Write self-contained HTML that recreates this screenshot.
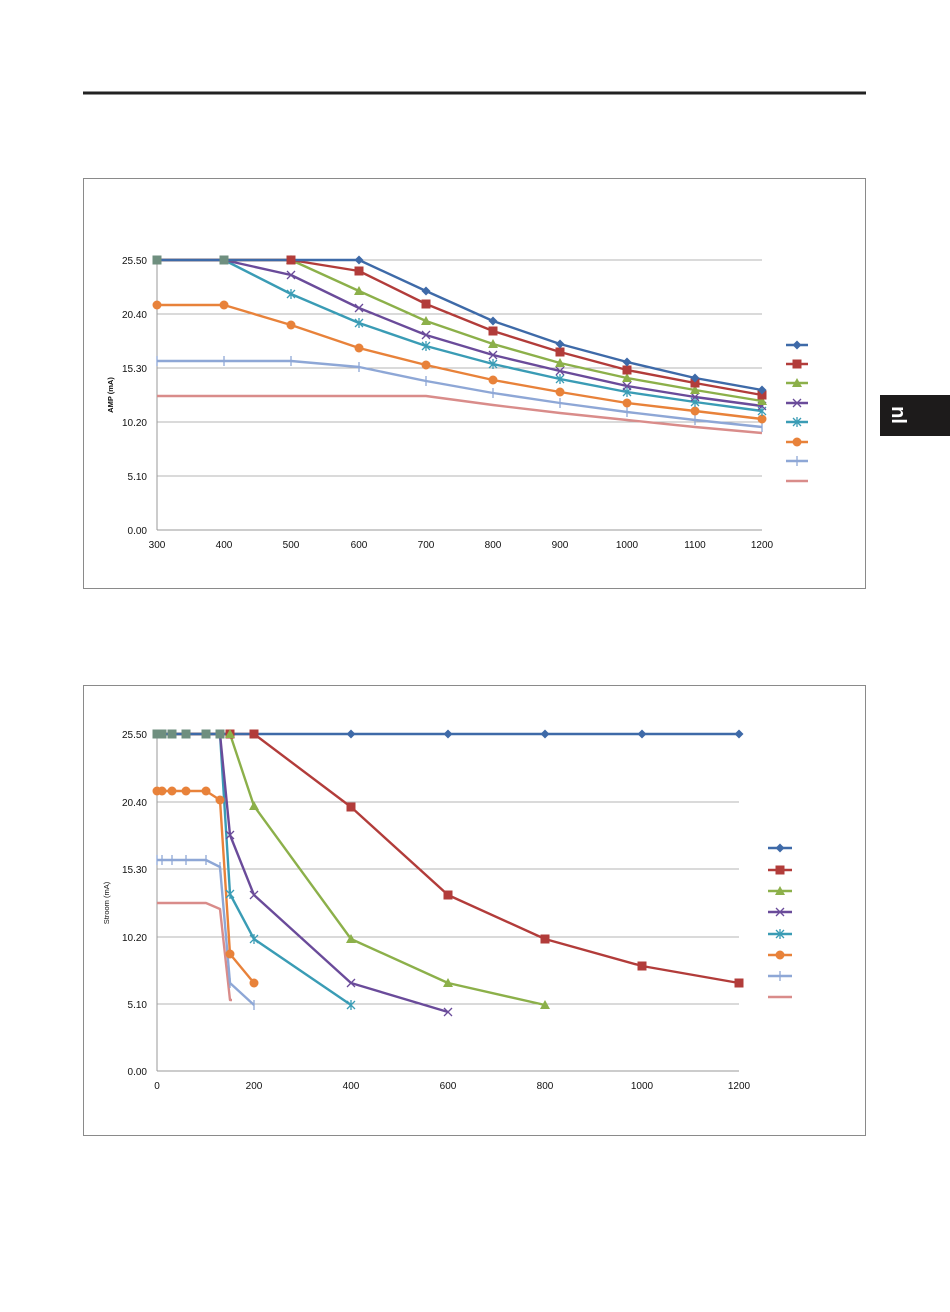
<!DOCTYPE html>
<html><head><meta charset="utf-8"><style>
html,body{margin:0;padding:0;background:#fff}
svg{display:block}
text{font-family:"Liberation Sans",sans-serif}
</style></head><body>
<svg width="950" height="1312" viewBox="0 0 950 1312" xmlns="http://www.w3.org/2000/svg">
<defs>
<path id="m1" d="M0,-4.5 L4.5,0 L0,4.5 L-4.5,0Z"/>
<rect id="m2" x="-4.5" y="-4.5" width="9" height="9"/>
<path id="m3" d="M0,-5 L5,4 L-5,4Z"/>
<path id="m4" d="M-4,-4 L4,4 M4,-4 L-4,4" fill="none" stroke-width="1.3"/>
<path id="m5" d="M-4,-4 L4,4 M4,-4 L-4,4 M0,-5 L0,5" fill="none" stroke-width="1.3"/>
<circle id="m6" r="4.5"/>
<path id="m7" d="M0,-5 L0,5" fill="none" stroke-width="1.3"/>
</defs>
<rect x="83" y="91.5" width="783" height="3" fill="#222"/>
<rect x="880" y="395" width="70" height="41" fill="#1d1b1b"/>
<text x="0" y="0" transform="translate(892,415) rotate(90)" fill="#fff" font-size="20" font-weight="bold" text-anchor="middle">nl</text>

<!-- Chart 1 -->
<rect x="83.5" y="178.5" width="782" height="410" fill="none" stroke="#8a8a8a"/>
<g stroke="#b5b5b5" stroke-width="1">
<line x1="157" y1="260" x2="762" y2="260"/><line x1="157" y1="314" x2="762" y2="314"/><line x1="157" y1="368" x2="762" y2="368"/><line x1="157" y1="422" x2="762" y2="422"/><line x1="157" y1="476" x2="762" y2="476"/>
</g>
<line x1="157" y1="530" x2="762" y2="530" stroke="#999"/>
<line x1="157" y1="260" x2="157" y2="530" stroke="#999"/>
<g font-size="10" fill="#111" text-anchor="end">
<text x="147" y="264">25.50</text><text x="147" y="318">20.40</text><text x="147" y="372">15.30</text><text x="147" y="426">10.20</text><text x="147" y="480">5.10</text><text x="147" y="534">0.00</text>
</g>
<g font-size="10" fill="#111" text-anchor="middle">
<text x="157" y="548">300</text><text x="224" y="548">400</text><text x="291" y="548">500</text><text x="359" y="548">600</text><text x="426" y="548">700</text><text x="493" y="548">800</text><text x="560" y="548">900</text><text x="627" y="548">1000</text><text x="695" y="548">1100</text><text x="762" y="548">1200</text>
</g>
<text transform="translate(113,395) rotate(-90)" font-size="7.5" font-weight="bold" text-anchor="middle" fill="#111">AMP (mA)</text>
<g fill="none" stroke-width="2.4" stroke-linejoin="round">
<polyline stroke="#d98c8a" points="157,396 426,396 493,405 560,413 627,420 695,427 762,433"/>
<polyline stroke="#8ea7d6" points="157,361 224,361 291,361 359,367 426,381 493,393 560,403 627,412 695,420 762,427"/>
<polyline stroke="#e8823a" points="157,305 224,305 291,325 359,348 426,365 493,380 560,392 627,403 695,411 762,419"/>
<polyline stroke="#3a9cb5" points="157,260 224,260 291,294 359,323 426,346 493,364 560,379 627,392 695,402 762,411"/>
<polyline stroke="#6a4b9a" points="157,260 224,260 291,275 359,308 426,335 493,355 560,371 627,386 695,397 762,406"/>
<polyline stroke="#8cb04a" points="157,260 224,260 291,260 359,291 426,321 493,344 560,363 627,378 695,390 762,401"/>
<polyline stroke="#b23c3a" points="157,260 224,260 291,260 359,271 426,304 493,331 560,352 627,370 695,383 762,395"/>
<polyline stroke="#3e6aa8" points="157,260 224,260 291,260 359,260 426,291 493,321 560,344 627,362 695,378 762,390"/>
</g>
<g stroke="#8ea7d6" fill="#8ea7d6"><use href="#m7" x="157" y="361"/><use href="#m7" x="224" y="361"/><use href="#m7" x="291" y="361"/><use href="#m7" x="359" y="367"/><use href="#m7" x="426" y="381"/><use href="#m7" x="493" y="393"/><use href="#m7" x="560" y="403"/><use href="#m7" x="627" y="412"/><use href="#m7" x="695" y="420"/><use href="#m7" x="762" y="427"/></g>
<g fill="#e8823a"><use href="#m6" x="157" y="305"/><use href="#m6" x="224" y="305"/><use href="#m6" x="291" y="325"/><use href="#m6" x="359" y="348"/><use href="#m6" x="426" y="365"/><use href="#m6" x="493" y="380"/><use href="#m6" x="560" y="392"/><use href="#m6" x="627" y="403"/><use href="#m6" x="695" y="411"/><use href="#m6" x="762" y="419"/></g>
<g stroke="#3a9cb5"><use href="#m5" x="291" y="294"/><use href="#m5" x="359" y="323"/><use href="#m5" x="426" y="346"/><use href="#m5" x="493" y="364"/><use href="#m5" x="560" y="379"/><use href="#m5" x="627" y="392"/><use href="#m5" x="695" y="402"/><use href="#m5" x="762" y="411"/></g>
<g stroke="#6a4b9a"><use href="#m4" x="291" y="275"/><use href="#m4" x="359" y="308"/><use href="#m4" x="426" y="335"/><use href="#m4" x="493" y="355"/><use href="#m4" x="560" y="371"/><use href="#m4" x="627" y="386"/><use href="#m4" x="695" y="397"/><use href="#m4" x="762" y="406"/></g>
<g fill="#8cb04a"><use href="#m3" x="291" y="260"/><use href="#m3" x="359" y="291"/><use href="#m3" x="426" y="321"/><use href="#m3" x="493" y="344"/><use href="#m3" x="560" y="363"/><use href="#m3" x="627" y="378"/><use href="#m3" x="695" y="390"/><use href="#m3" x="762" y="401"/></g>
<g fill="#b23c3a"><use href="#m2" x="291" y="260"/><use href="#m2" x="359" y="271"/><use href="#m2" x="426" y="304"/><use href="#m2" x="493" y="331"/><use href="#m2" x="560" y="352"/><use href="#m2" x="627" y="370"/><use href="#m2" x="695" y="383"/><use href="#m2" x="762" y="395"/></g>
<g fill="#3e6aa8"><use href="#m1" x="359" y="260"/><use href="#m1" x="426" y="291"/><use href="#m1" x="493" y="321"/><use href="#m1" x="560" y="344"/><use href="#m1" x="627" y="362"/><use href="#m1" x="695" y="378"/><use href="#m1" x="762" y="390"/></g>
<g fill="#6f8f7f"><use href="#m2" x="157" y="260"/><use href="#m2" x="224" y="260"/></g>
<!-- legend 1 -->
<g stroke-width="2.4">
<line x1="786" y1="345" x2="808" y2="345" stroke="#3e6aa8"/><use href="#m1" x="797" y="345" fill="#3e6aa8"/>
<line x1="786" y1="364" x2="808" y2="364" stroke="#b23c3a"/><use href="#m2" x="797" y="364" fill="#b23c3a"/>
<line x1="786" y1="383" x2="808" y2="383" stroke="#8cb04a"/><use href="#m3" x="797" y="383" fill="#8cb04a"/>
<line x1="786" y1="403" x2="808" y2="403" stroke="#6a4b9a"/><use href="#m4" x="797" y="403" stroke="#6a4b9a"/>
<line x1="786" y1="422" x2="808" y2="422" stroke="#3a9cb5"/><use href="#m5" x="797" y="422" stroke="#3a9cb5"/>
<line x1="786" y1="442" x2="808" y2="442" stroke="#e8823a"/><use href="#m6" x="797" y="442" fill="#e8823a"/>
<line x1="786" y1="461" x2="808" y2="461" stroke="#8ea7d6"/><use href="#m7" x="797" y="461" stroke="#8ea7d6"/>
<line x1="786" y1="481" x2="808" y2="481" stroke="#d98c8a"/>
</g>

<!-- Chart 2 -->
<rect x="83.5" y="685.5" width="782" height="450" fill="none" stroke="#8a8a8a"/>
<g stroke="#b5b5b5" stroke-width="1">
<line x1="157" y1="734" x2="739" y2="734"/><line x1="157" y1="802" x2="739" y2="802"/><line x1="157" y1="869" x2="739" y2="869"/><line x1="157" y1="937" x2="739" y2="937"/><line x1="157" y1="1004" x2="739" y2="1004"/>
</g>
<line x1="157" y1="1071" x2="739" y2="1071" stroke="#999"/>
<line x1="157" y1="734" x2="157" y2="1071" stroke="#999"/>
<g font-size="10" fill="#111" text-anchor="end">
<text x="147" y="738">25.50</text><text x="147" y="806">20.40</text><text x="147" y="873">15.30</text><text x="147" y="941">10.20</text><text x="147" y="1008">5.10</text><text x="147" y="1075">0.00</text>
</g>
<g font-size="10" fill="#111" text-anchor="middle">
<text x="157" y="1089">0</text><text x="254" y="1089">200</text><text x="351" y="1089">400</text><text x="448" y="1089">600</text><text x="545" y="1089">800</text><text x="642" y="1089">1000</text><text x="739" y="1089">1200</text>
</g>
<text transform="translate(109,903) rotate(-90)" font-size="7.5" text-anchor="middle" fill="#111">Stroom (mA)</text>
<g fill="none" stroke-width="2.4" stroke-linejoin="round">
<polyline stroke="#d98c8a" points="157,903 206,903 220,909 230,1000 232,1000"/>
<polyline stroke="#8ea7d6" points="157,860 206,860 220,867 230,983 254,1005"/>
<polyline stroke="#e8823a" points="157,791 206,791 220,800 230,954 254,983"/>
<polyline stroke="#3a9cb5" points="157,734 220,734 230,894 254,939 351,1005"/>
<polyline stroke="#6a4b9a" points="157,734 220,734 230,835 254,895 351,983 448,1012"/>
<polyline stroke="#8cb04a" points="157,734 230,734 254,806 351,939 448,983 545,1005"/>
<polyline stroke="#b23c3a" points="157,734 254,734 351,807 448,895 545,939 642,966 739,983"/>
<polyline stroke="#3e6aa8" points="157,734 739,734"/>
</g>
<g fill="#3e6aa8"><use href="#m1" x="351" y="734"/><use href="#m1" x="448" y="734"/><use href="#m1" x="545" y="734"/><use href="#m1" x="642" y="734"/><use href="#m1" x="739" y="734"/></g>
<g fill="#b23c3a"><use href="#m2" x="230" y="734"/><use href="#m2" x="254" y="734"/><use href="#m2" x="351" y="807"/><use href="#m2" x="448" y="895"/><use href="#m2" x="545" y="939"/><use href="#m2" x="642" y="966"/><use href="#m2" x="739" y="983"/></g>
<g fill="#8cb04a"><use href="#m3" x="230" y="734"/><use href="#m3" x="254" y="806"/><use href="#m3" x="351" y="939"/><use href="#m3" x="448" y="983"/><use href="#m3" x="545" y="1005"/></g>
<g stroke="#6a4b9a"><use href="#m4" x="230" y="835"/><use href="#m4" x="254" y="895"/><use href="#m4" x="351" y="983"/><use href="#m4" x="448" y="1012"/></g>
<g stroke="#3a9cb5"><use href="#m5" x="230" y="894"/><use href="#m5" x="254" y="939"/><use href="#m5" x="351" y="1005"/></g>
<g fill="#e8823a"><use href="#m6" x="157" y="791"/><use href="#m6" x="162" y="791"/><use href="#m6" x="172" y="791"/><use href="#m6" x="186" y="791"/><use href="#m6" x="206" y="791"/><use href="#m6" x="220" y="800"/><use href="#m6" x="230" y="954"/><use href="#m6" x="254" y="983"/></g>
<g stroke="#8ea7d6"><use href="#m7" x="157" y="860"/><use href="#m7" x="162" y="860"/><use href="#m7" x="172" y="860"/><use href="#m7" x="186" y="860"/><use href="#m7" x="206" y="860"/><use href="#m7" x="220" y="867"/><use href="#m7" x="230" y="983"/><use href="#m7" x="254" y="1005"/></g>
<g fill="#6f8f7f"><use href="#m2" x="157" y="734"/><use href="#m2" x="162" y="734"/><use href="#m2" x="172" y="734"/><use href="#m2" x="186" y="734"/><use href="#m2" x="206" y="734"/><use href="#m2" x="220" y="734"/></g>
<!-- legend 2 -->
<g stroke-width="2.4">
<line x1="768" y1="848" x2="792" y2="848" stroke="#3e6aa8"/><use href="#m1" x="780" y="848" fill="#3e6aa8"/>
<line x1="768" y1="870" x2="792" y2="870" stroke="#b23c3a"/><use href="#m2" x="780" y="870" fill="#b23c3a"/>
<line x1="768" y1="891" x2="792" y2="891" stroke="#8cb04a"/><use href="#m3" x="780" y="891" fill="#8cb04a"/>
<line x1="768" y1="912" x2="792" y2="912" stroke="#6a4b9a"/><use href="#m4" x="780" y="912" stroke="#6a4b9a"/>
<line x1="768" y1="934" x2="792" y2="934" stroke="#3a9cb5"/><use href="#m5" x="780" y="934" stroke="#3a9cb5"/>
<line x1="768" y1="955" x2="792" y2="955" stroke="#e8823a"/><use href="#m6" x="780" y="955" fill="#e8823a"/>
<line x1="768" y1="976" x2="792" y2="976" stroke="#8ea7d6"/><use href="#m7" x="780" y="976" stroke="#8ea7d6"/>
<line x1="768" y1="997" x2="792" y2="997" stroke="#d98c8a"/>
</g>
</svg>
</body></html>
